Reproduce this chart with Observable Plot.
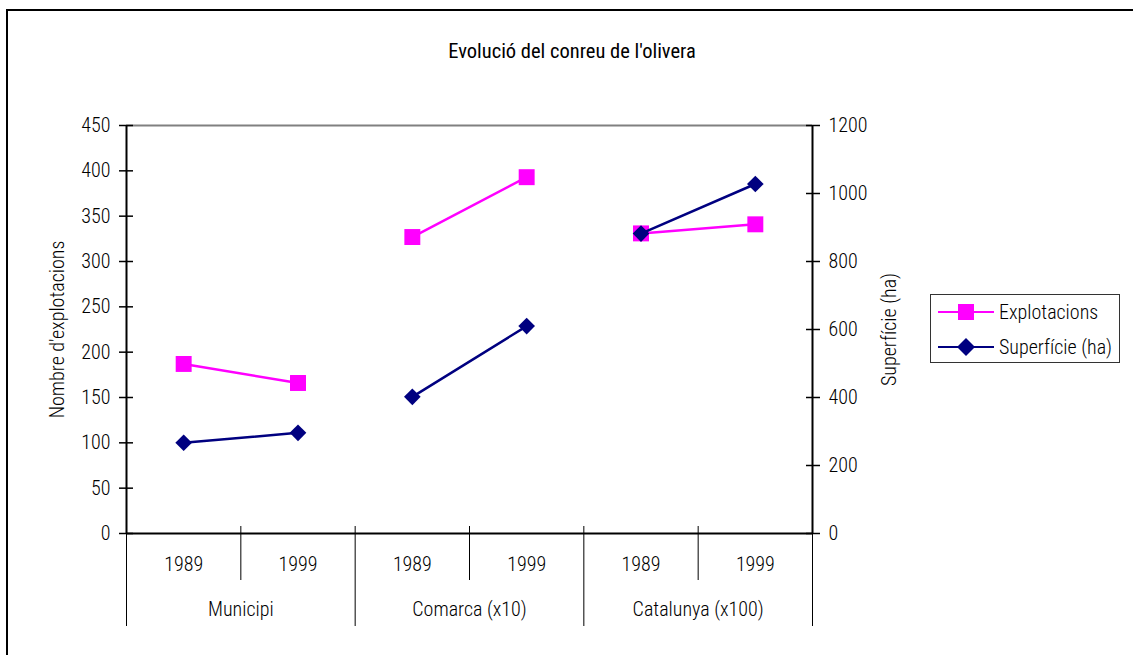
<!DOCTYPE html>
<html>
<head>
<meta charset="utf-8">
<script src="https://cdn.jsdelivr.net/npm/d3@7"></script>
<script src="https://cdn.jsdelivr.net/npm/@observablehq/plot@0.6"></script>
<style>
  html, body { margin: 0; padding: 0; background: #fff; }
  body { font-family: "Roboto Condensed", Roboto, sans-serif; font-stretch: condensed; }
  #wrap { position: relative; width: 1133px; height: 655px; overflow: hidden; }
  #frame { position: absolute; left: 6px; top: 9px; width: 1200px; height: 700px;
           border-left: 2px solid #000; border-top: 2px solid #000; box-sizing: border-box; }
  #title { position: absolute; left: 0; width: 1144px; top: 39px; text-align: center;
           font-size: 20.5px; color: #000; font-weight: 400; }
  #chart { position: absolute; left: 0; top: 0; }
  #legend { position: absolute; left: 930px; top: 294px; width: 190px; height: 69px;
            border: 1px solid #333; box-sizing: border-box; background: #fff; }
  .item { position: absolute; left: 7px; height: 24px; display: flex; align-items: center;
          font-size: 20px; white-space: nowrap; font-weight: 300; }
  .item svg { margin-right: 5px; }
</style>
</head>
<body>
<div id="wrap">
  <div id="frame"></div>
  <div id="chart"></div>
  <div id="title">Evolució del conreu de l'olivera</div>
  <div id="legend"></div>
</div>
<script>
// ---- data ----
const groups = ["Municipi", "Comarca (x10)", "Catalunya (x100)"];
const years = ["1989", "1999"];
const explotacions = [187, 166, 327, 393, 331, 341];
const superficie = [267, 296, 402, 610, 882, 1028];
const leftTicks = [0, 50, 100, 150, 200, 250, 300, 350, 400, 450];
const rightTicks = [0, 200, 400, 600, 800, 1000, 1200];
const seriesNames = ["Explotacions", "Superfície (ha)"];
const colors = ["#ff00ff", "#000080"];
const leftTitle = "Nombre d'explotacions";
const rightTitle = "Superfície (ha)";

const leftMax = 450, rightMax = 1200;
const ratio = leftMax / rightMax;

const rows = explotacions.map((v, i) => ({
  pos: i + 0.5,
  group: groups[Math.floor(i / 2)],
  year: years[i % 2],
  expl: v,
  sup: superficie[i] * ratio
}));

const yearPos = rows.map(d => d.pos);
const yearDiv = groups.map((g, j) => j * 2 + 1);
const groupDiv = [0, 2, 4, 6];
const groupPos = groups.map((g, j) => j * 2 + 1);

const font = '"Roboto Condensed", Roboto, sans-serif';

const chart = Plot.plot({
  width: 1133,
  height: 655,
  marginLeft: 126,
  marginRight: 321,
  marginTop: 125,
  marginBottom: 122,
  style: { fontFamily: font, fontStretch: "condensed", fontWeight: 300, fontSize: "20px", background: "transparent", color: "#000", overflow: "visible" },
  x: { type: "linear", domain: [0, 6], axis: null },
  y: { domain: [0, leftMax], axis: null },
  marks: [
    Plot.ruleY([leftMax], { stroke: "#808080", strokeWidth: 2 }),
    Plot.ruleY([0], { stroke: "#000", strokeWidth: 2 }),
    Plot.ruleX([0, 6], { stroke: "#000", strokeWidth: 2 }),
    // left axis
    Plot.axisY(leftTicks, { anchor: "left", tickSize: 14, insetLeft: 7, tickPadding: 9, strokeWidth: 1.5, label: null }),
    // right axis
    Plot.axisY(rightTicks.map(v => v * ratio), { anchor: "right", tickSize: 14, insetRight: 7, tickPadding: 9, strokeWidth: 1.5, label: null,
      tickFormat: v => String(Math.round(v / ratio)) }),
    // bottom hierarchical category axis
    Plot.axisX(yearDiv, { anchor: "bottom", tickSize: 54, dy: -7, tickFormat: () => "", label: null }),
    Plot.axisX(groupDiv, { anchor: "bottom", tickSize: 100, dy: -7, tickFormat: () => "", label: null }),
    Plot.axisX(yearPos, { anchor: "bottom", tickSize: 0, tickPadding: 23, label: null,
      tickFormat: (v) => rows.find(r => r.pos === v).year }),
    Plot.axisX(groupPos, { anchor: "bottom", tickSize: 0, tickPadding: 68, label: null,
      tickFormat: (v, i) => groups[i] }),
    // axis titles
    Plot.text([leftTitle], { frameAnchor: "left", dx: -69, rotate: -90, textAnchor: "middle", text: d => d, fontSize: 20 }),
    Plot.text([rightTitle], { frameAnchor: "right", dx: 77, rotate: -90, textAnchor: "middle", text: d => d, fontSize: 20 }),
    // series
    Plot.line(rows, { x: "pos", y: "expl", z: "group", stroke: colors[0], strokeWidth: 2.5 }),
    Plot.dot(rows, { x: "pos", y: "expl", symbol: "square", r: 9, fill: colors[0] }),
    Plot.line(rows, { x: "pos", y: "sup", z: "group", stroke: colors[1], strokeWidth: 2.5 }),
    Plot.dot(rows, { x: "pos", y: "sup", symbol: "diamond2", r: 7.5, fill: colors[1] })
  ]
});
document.getElementById("chart").appendChild(chart);

// legend
const legend = document.getElementById("legend");
const symbols = ["square", "diamond"];
seriesNames.forEach((name, i) => {
  const item = document.createElement("div");
  item.className = "item";
  item.style.top = (i === 0 ? 5 : 40) + "px";
  const mark = symbols[i] === "square"
    ? `<rect x="20" y="4" width="16" height="16" fill="${colors[i]}"/>`
    : `<polygon points="28,3 37,12 28,21 19,12" fill="${colors[i]}"/>`;
  item.innerHTML = `<svg width="56" height="24"><line x1="0" x2="56" y1="12" y2="12" stroke="${colors[i]}" stroke-width="2"/>${mark}</svg><span>${name}</span>`;
  legend.appendChild(item);
});
</script>
</body>
</html>
